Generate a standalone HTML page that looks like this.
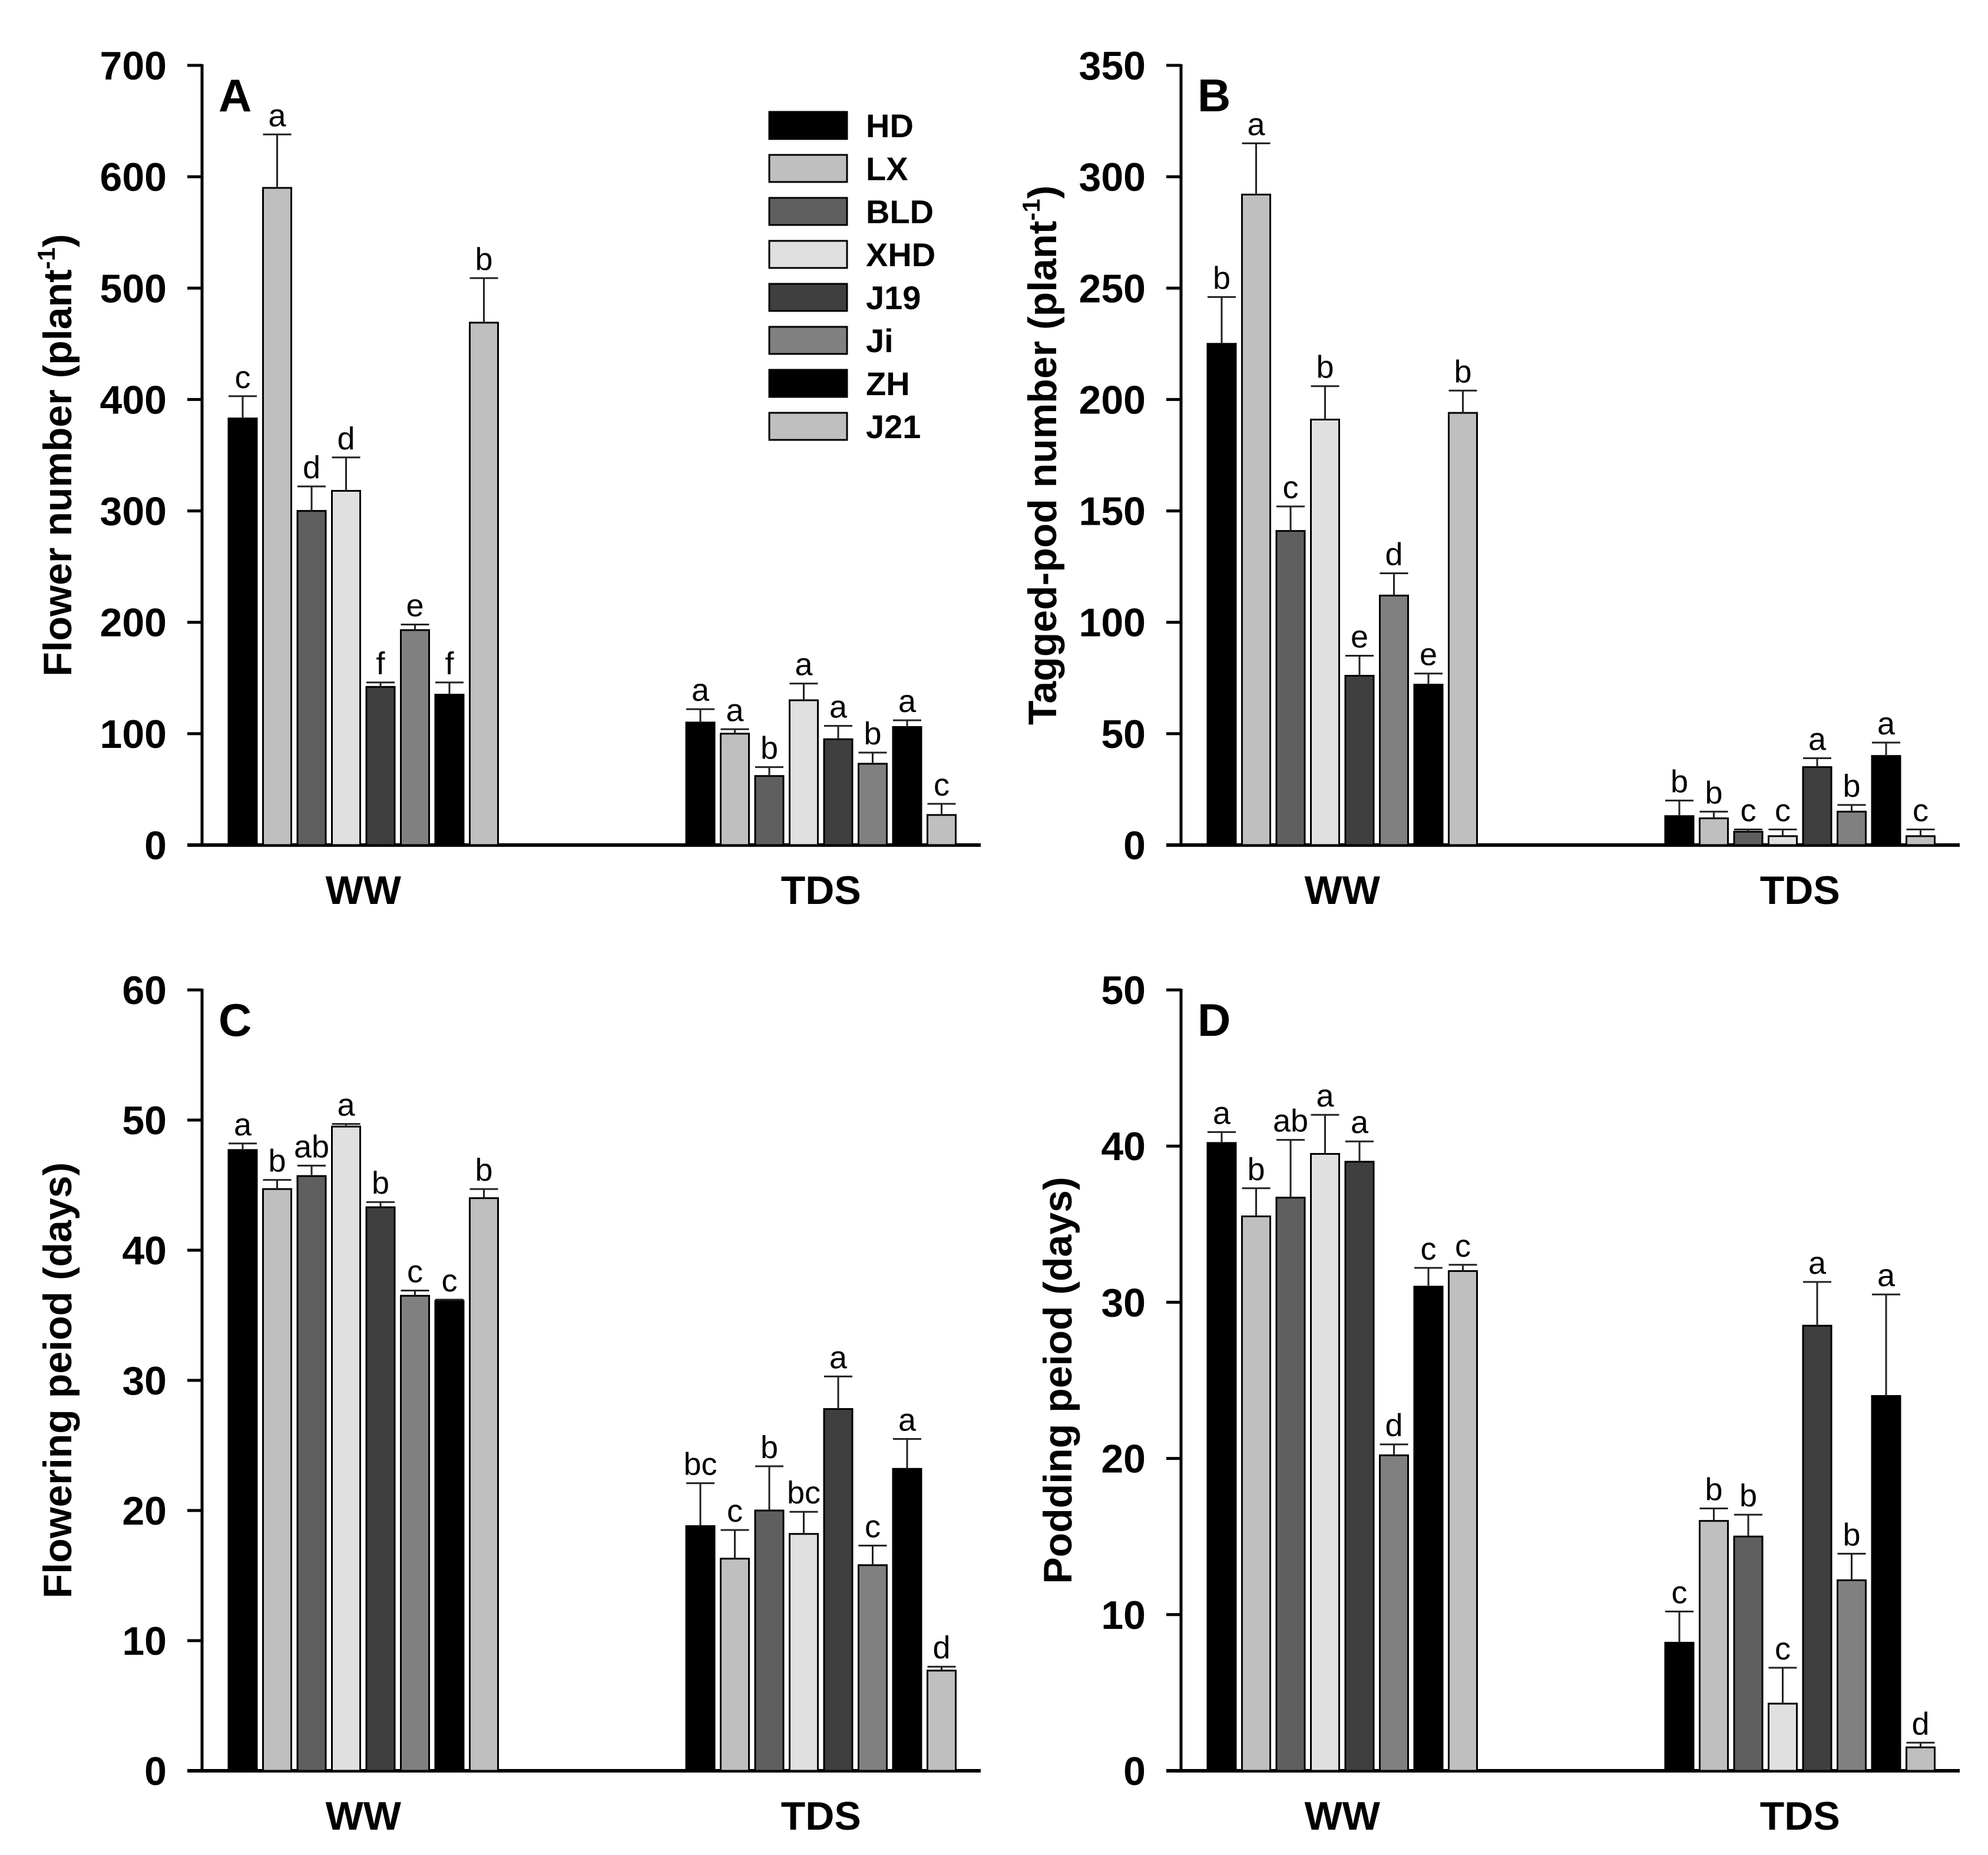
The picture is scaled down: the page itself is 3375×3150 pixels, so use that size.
<!DOCTYPE html>
<html><head><meta charset="utf-8"><style>
html,body{margin:0;padding:0;background:#fff;}
svg{display:block;font-family:"Liberation Sans",Arial,sans-serif;}
</style></head>
<body>
<svg id="fig" width="3375" height="3150" viewBox="0 0 3375 3150"></svg>
<script>
const cultivars = ["HD","LX","BLD","XHD","J19","Ji","ZH","J21"];
const colors = ["#000000","#bfbfbf","#5f5f5f","#e0e0e0","#3f3f3f","#808080","#000000","#bfbfbf"];
const groups = ["WW","TDS"];

const aWW = [383,590,300,318,142,193,135,469];
const aWWerr = [20,48,22,30,4,5,11,40];
const aWWlet = ["c","a","d","d","f","e","f","b"];
const aTDS = [110,100,62,130,95,73,106,27];
const aTDSerr = [12,4,8,15,12,10,6,10];
const aTDSlet = ["a","a","b","a","a","b","a","c"];
const aTicks = [0,100,200,300,400,500,600,700];

const bWW = [225,292,141,191,76,112,72,194];
const bWWerr = [21,23,11,15,9,10,5,10];
const bWWlet = ["b","a","c","b","e","d","e","b"];
const bTDS = [13,12,6,4,35,15,40,4];
const bTDSerr = [7,3,1,3,4,3,6,3];
const bTDSlet = ["b","b","c","c","a","b","a","c"];
const bTicks = [0,50,100,150,200,250,300,350];

const cWW = [47.7,44.7,45.7,49.5,43.3,36.5,36.1,44.0];
const cWWerr = [0.5,0.7,0.8,0.2,0.4,0.4,0.1,0.7];
const cWWlet = ["a","b","ab","a","b","c","c","b"];
const cTDS = [18.8,16.3,20.0,18.2,27.8,15.8,23.2,7.7];
const cTDSerr = [3.3,2.2,3.4,1.7,2.5,1.5,2.3,0.3];
const cTDSlet = ["bc","c","b","bc","a","c","a","d"];
const cTicks = [0,10,20,30,40,50,60];

const dWW = [40.2,35.5,36.7,39.5,39.0,20.2,31.0,32.0];
const dWWerr = [0.7,1.8,3.7,2.5,1.3,0.7,1.2,0.4];
const dWWlet = ["a","b","ab","a","a","d","c","c"];
const dTDS = [8.2,16.0,15.0,4.3,28.5,12.2,24.0,1.5];
const dTDSerr = [2.0,0.8,1.4,2.3,2.8,1.7,6.5,0.3];
const dTDSlet = ["c","b","b","c","a","b","a","d"];
const dTicks = [0,10,20,30,40,50];

const NS = "http://www.w3.org/2000/svg";
const svg = document.getElementById("fig");
function mk(tag, attrs, parent, txt){
  const e = document.createElementNS(NS, tag);
  for (const k in attrs) e.setAttribute(k, attrs[k]);
  if (txt !== undefined) e.textContent = txt;
  (parent||svg).appendChild(e);
  return e;
}

function panel(cfg){
  const g = mk("g", {});
  
  
  const x0 = cfg.x0, yB = cfg.yB, yT = cfg.yT, W = 1322;
  const max = cfg.ticks[cfg.ticks.length-1];
  const y = v => yB - (v/max)*(yB-yT);
  const ya = mk("line",{x1:x0,y1:yT-2,x2:x0,y2:yB+3,stroke:"#000","stroke-width":5},g);
  
  
  const xa = mk("line",{x1:x0-25,y1:yB,x2:x0+W,y2:yB,stroke:"#000","stroke-width":6},g);
  
  
  cfg.ticks.forEach(t=>{
    const ty = y(t);
    const tk = mk("line",{x1:x0-25,y1:ty,x2:x0,y2:ty,stroke:"#000","stroke-width":5},g);
    
    
    const tl = mk("text",{x:x0-60,y:ty+24,"text-anchor":"end","font-size":68,"font-weight":"bold"},g,String(t));
    
    
  });
  const cy = (yT+yB)/2;
  const tt = mk("text",{x:cfg.titleX,y:cy,"text-anchor":"middle","font-size":68,"font-weight":"bold",transform:`rotate(-90 ${cfg.titleX} ${cy})`},g);
  
  
  tt.appendChild(document.createTextNode(cfg.title));
  if (cfg.sup){
    mk("tspan",{"font-size":42,dy:-28},tt,"-1");
    mk("tspan",{dy:28},tt,")");
  }
  const pl = mk("text",{x:x0+28,y:yT+78,"font-size":78,"font-weight":"bold"},g,cfg.letter);
  
  
  const pitch = 58.5, bw = 48;
  const offs = [45, 822];
  cfg.data.forEach((set, gi)=>{
    const [vals, errs, lets] = set;
    const gs = x0 + offs[gi];
    vals.forEach((v,i)=>{
      const bx = gs + i*pitch;
      const r = mk("rect",{x:bx,y:y(v),width:bw,height:yB-y(v),fill:colors[i],stroke:"#000","stroke-width":3},g);
      
      
      const ye = y(v+errs[i]);
      const cx = bx + bw/2;
      const el = mk("path",{d:`M${cx} ${y(v)}V${ye}M${bx} ${ye}H${bx+bw}`,stroke:"#222","stroke-width":3,fill:"none"},g);
      
      
      const lt = mk("text",{x:cx,y:ye-14,"text-anchor":"middle","font-size":54},g,lets[i]);
      
      
    });
    const gl = mk("text",{x:gs + (7*pitch+bw)/2,y:yB+100,"text-anchor":"middle","font-size":68,"font-weight":"bold"},g,groups[gi]);
    
    
  });
  return g;
}

panel({letter:"A",x0:343,yT:111,yB:1435,ticks:aTicks,title:"Flower number (plant",sup:true,titleX:121,data:[[aWW,aWWerr,aWWlet],[aTDS,aTDSerr,aTDSlet]]});
panel({letter:"B",x0:2005,yT:111,yB:1435,ticks:bTicks,title:"Tagged-pod number (plant",sup:true,titleX:1793,data:[[bWW,bWWerr,bWWlet],[bTDS,bTDSerr,bTDSlet]]});
panel({letter:"C",x0:343,yT:1681,yB:3007,ticks:cTicks,title:"Flowering peiod (days)",sup:false,titleX:121,data:[[cWW,cWWerr,cWWlet],[cTDS,cTDSerr,cTDSlet]]});
panel({letter:"D",x0:2005,yT:1681,yB:3007,ticks:dTicks,title:"Podding peiod (days)",sup:false,titleX:1819,data:[[dWW,dWWerr,dWWlet],[dTDS,dTDSerr,dTDSlet]]});

const lg = mk("g",{});


cultivars.forEach((c,i)=>{
  const ly = 190 + i*73;
  const r = mk("rect",{x:1306,y:ly,width:132,height:46,fill:colors[i],stroke:"#000","stroke-width":3},lg);
  
  
  const t = mk("text",{x:1470,y:ly+43,"font-size":56,"font-weight":"bold"},lg,c);
  
  
});
</script>
</body></html>
